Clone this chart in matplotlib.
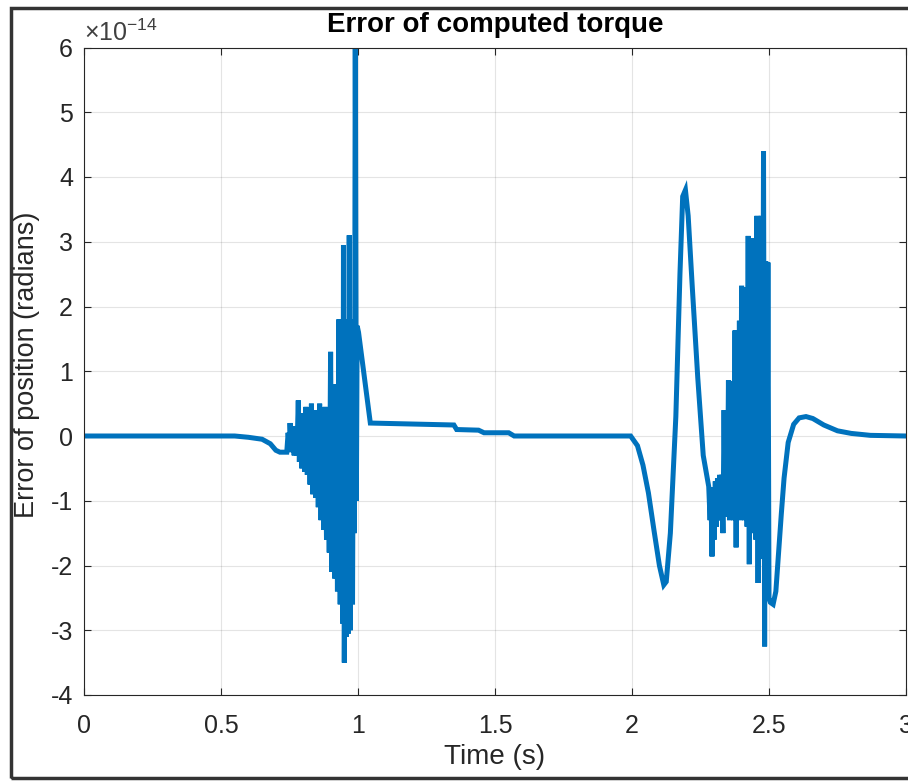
import matplotlib
matplotlib.use("Agg")
import matplotlib.pyplot as plt
from matplotlib.patches import Rectangle

plt.rcParams['font.family'] = ['Liberation Sans', 'DejaVu Sans']
plt.rcParams['mathtext.default'] = 'regular'

# Breakpoints of the error curve (time in s, error in units of 1e-14 rad)
time_s = [
    0.0, 0.50, 0.55, 0.60, 0.65, 0.68, 0.70, 0.715,
    0.740, 0.745, 0.750, 0.752, 0.757, 0.762, 0.767, 0.772, 0.777, 0.782,
    0.786, 0.790, 0.795, 0.800, 0.805, 0.810, 0.815, 0.820, 0.825, 0.830,
    0.835, 0.840, 0.845, 0.850, 0.855, 0.860, 0.865, 0.870, 0.875, 0.880,
    0.885, 0.890, 0.895, 0.900, 0.905, 0.910, 0.915, 0.920, 0.925, 0.930,
    0.935, 0.940, 0.945, 0.947, 0.950, 0.955, 0.958, 0.962, 0.965, 0.968,
    0.972, 0.976, 0.980, 0.984, 0.987, 0.990, 0.994, 0.997, 1.002, 1.045,
    1.35, 1.36, 1.44, 1.46, 1.55, 1.57, 1.995,
    2.02, 2.04, 2.06, 2.08, 2.10, 2.116, 2.125, 2.14, 2.16, 2.175, 2.185,
    2.195, 2.205, 2.22, 2.24, 2.26, 2.280,
    2.285, 2.288, 2.292, 2.296, 2.300, 2.304, 2.308, 2.312, 2.316, 2.320,
    2.324, 2.328, 2.332, 2.336, 2.340, 2.344, 2.348, 2.352, 2.356, 2.360,
    2.364, 2.368, 2.372, 2.376, 2.380, 2.384, 2.388, 2.392, 2.396, 2.400,
    2.404, 2.408, 2.412, 2.416, 2.420, 2.424, 2.428, 2.432, 2.436, 2.440,
    2.444, 2.448, 2.452, 2.456, 2.460, 2.464, 2.468, 2.472, 2.476, 2.480,
    2.484, 2.488, 2.492, 2.496, 2.500, 2.505,
    2.515, 2.525, 2.535, 2.545, 2.555, 2.57, 2.59, 2.61, 2.635, 2.66, 2.70,
    2.75, 2.80, 2.87, 3.0,
]
error_e14 = [
    0.0, 0.0, 0.0, -0.02, -0.05, -0.12, -0.22, -0.25,
    -0.25, 0.05, -0.2, 0.2, -0.25, 0.1, -0.3, 0.15, -0.3, 0.55,
    -0.4, 0.3, -0.5, 0.35, -0.55, 0.45, -0.6, 0.3, -0.75, 0.5,
    -0.9, 0.35, -0.95, 0.4, -1.1, 0.5, -1.3, 0.35, -1.45, 0.45,
    -1.6, 0.4, -1.8, 1.3, -2.1, 0.6, -2.2, 0.8, -2.4, 1.8,
    -2.6, 1.75, -2.9, 2.95, -3.5, 1.8, -3.1, 1.8, -3.05, 3.1,
    -3.0, 1.8, -2.6, 1.8, -1.5, 6.5, -1.0, 1.7, 1.6, 0.2,
    0.17, 0.1, 0.09, 0.05, 0.05, 0.0, 0.0,
    -0.15, -0.45, -0.88, -1.45, -2.0, -2.3, -2.25, -1.5, 0.3, 2.5, 3.7,
    3.8, 3.4, 2.3, 0.9, -0.3, -0.78,
    -1.3, -0.8, -1.86, -0.8, -1.6, -0.7, -1.4, -0.65, -1.3, -0.6,
    -1.3, -0.6, -1.5, 0.4, -1.2, 0.3, -1.25, 0.86, -1.3, 0.8,
    -1.2, 0.85, -1.3, 1.63, -1.72, 1.6, -1.2, 1.78, -1.3, 2.32,
    -1.2, 2.3, -1.3, 2.3, -1.4, 3.09, -1.98, 3.0, -1.4, 3.05,
    -1.5, 3.0, -1.6, 3.4, -2.27, 3.35, -1.8, 3.4, -1.9, 4.4,
    -3.25, 2.7, -2.5, 2.68, -2.5, -2.57,
    -2.6, -2.4, -1.8, -1.2, -0.65, -0.1, 0.18, 0.28, 0.3, 0.27, 0.17,
    0.08, 0.04, 0.01, 0.0,
]

x_ticks = [0, 0.5, 1, 1.5, 2, 2.5, 3]
x_tick_labels = ['0', '0.5', '1', '1.5', '2', '2.5', '3']
y_ticks = [-4, -3, -2, -1, 0, 1, 2, 3, 4, 5, 6]
y_tick_labels = ['-4', '-3', '-2', '-1', '0', '1', '2', '3', '4', '5', '6']

W, H = 908, 781
fig = plt.figure(figsize=(W / 100, H / 100), dpi=100)
ax = fig.add_axes([84 / W, 1 - 695 / H, 822 / W, 647.5 / H])

ax.plot(time_s, error_e14, color='#0072BD', lw=3.6, solid_joinstyle='miter')

axcol = '#262626'
ax.set_xlim(0, 3)
ax.set_ylim(-4, 6)
ax.set_xticks(x_ticks)
ax.set_xticklabels(x_tick_labels)
ax.set_yticks(y_ticks)
ax.set_yticklabels(y_tick_labels)
ax.grid(True, color='#262626', alpha=0.12, lw=0.8)
ax.tick_params(direction='in', length=5, width=0.8, colors=axcol,
               top=True, right=True, labelsize=18)
ax.tick_params(axis='x', pad=14)
ax.tick_params(axis='y', pad=8)
for s in ax.spines.values():
    s.set_color(axcol)
    s.set_linewidth(0.8)

ax.set_title('Error of computed torque', fontsize=20, fontweight='bold',
             color='black', pad=11)
ax.set_xlabel('Time (s)', fontsize=20, color=axcol, labelpad=4)
ax.set_ylabel('Error of position (radians)', fontsize=19.5, color=axcol)
ax.yaxis.set_label_coords(-0.054, 0.51)

ax.text(0.0, 1.003, r'$\times10^{-14}$', transform=ax.transAxes,
        fontsize=18, color='#404040', ha='left', va='bottom')

# outer frame of the figure
fig.patches.append(Rectangle((11 / W, 3 / H), 1.2, 1 - 11 / H,
                             transform=fig.transFigure, fill=False,
                             edgecolor='#333333', lw=2.5))

fig.savefig('out.png', dpi=100)
